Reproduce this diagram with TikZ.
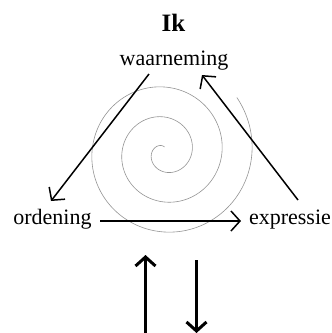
\documentclass[tikz,border=0pt]{standalone}
\usepackage{fontspec}
\setmainfont{Liberation Serif}
\usetikzlibrary{arrows.meta}
\begin{document}
\begin{tikzpicture}[x=1pt,y=-1pt,
  lbl/.style={font=\fontsize{22}{26}\selectfont, inner sep=0pt, anchor=base},
  title/.style={font=\fontsize{25}{29}\selectfont\bfseries, inner sep=0pt, anchor=base},
  cycarrow/.style={line width=1.5pt, -{Straight Barb[length=9pt,width=20pt,line width=1.5pt]}},
  bigarrow/.style={line width=3pt, -{Straight Barb[length=9pt,width=20pt,line width=3pt]}},
  spiralline/.style={draw=black!42, line width=0.6pt}]
\useasboundingbox (0,0) rectangle (332,333);
% spiral
\draw[spiralline] plot[domain=60:1087, samples=500, variable=\t, smooth]
  ({164.5 + (\t/12)*cos(\t+30)}, {152 - (\t/12)*sin(\t+30)});
% labels
\node[title] (ik) at (173.5,31.5) {Ik};
\node[lbl] (w) at (174,65.5) {waarneming};
\node[lbl] (o) at (52.5,224) {ordening};
\node[lbl] (e) at (290,224) {expressie};
% connector ends
\coordinate (wo1) at (149,74);
\coordinate (wo2) at (51,201);
\coordinate (oe1) at (100,221);
\coordinate (oe2) at (241,221);
\coordinate (ew1) at (298,200);
\coordinate (ew2) at (202,75);
\coordinate (up1) at (145.5,333);
\coordinate (up2) at (145.5,255);
\coordinate (dn1) at (196.5,260);
\coordinate (dn2) at (196.5,333);
\draw[cycarrow] (wo1) -- (wo2);
\draw[cycarrow] (oe1) -- (oe2);
\draw[cycarrow] (ew1) -- (ew2);
\draw[bigarrow] (up1) -- (up2);
\draw[bigarrow] (dn1) -- (dn2);
\end{tikzpicture}
\end{document}
